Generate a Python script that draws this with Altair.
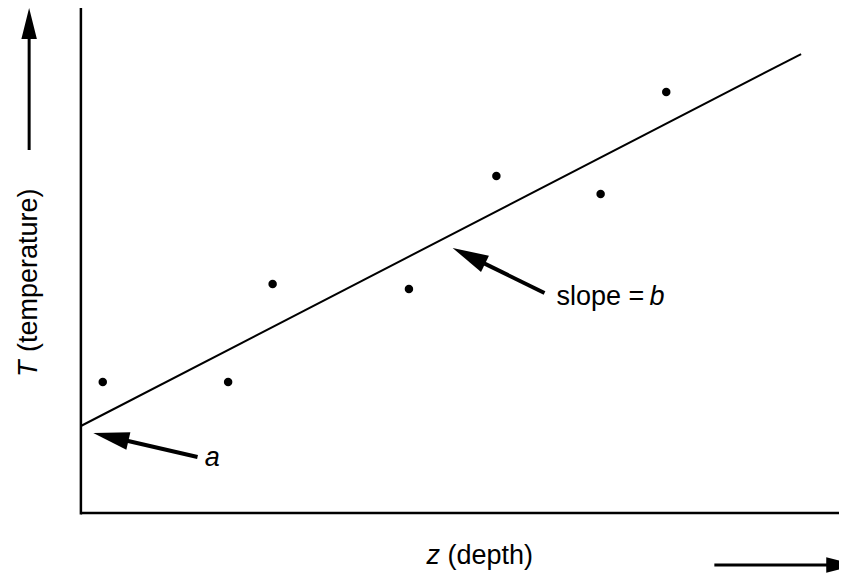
import math
import altair as alt
import pandas as pd

# ---- data ----
depth = [0.30, 2.02, 2.63, 4.50, 5.70, 7.13, 8.03]
temperature = [2.62, 2.62, 4.58, 4.48, 6.74, 6.38, 8.42]
intercept_a = 1.74
slope_b = 0.753
fit_z_end = 9.88

# annotation arrows: tail -> tip (data units)
arrow_tail_z = [1.60, 6.36, -0.71, 8.69]
arrow_tail_T = [1.12, 4.40, 7.26, -1.04]
arrow_tip_z = [0.17, 5.10, -0.71, 10.65]
arrow_tip_T = [1.60, 5.30, 10.10, -1.04]
arrow_head_len = [36, 36, 31, 31]
arrow_shaft_w = [4, 4, 3, 3]

# labels
normal_text = ["slope = ", "(depth)", "(temperature)"]
normal_z = [6.525, 5.03, -0.603]
normal_T = [4.16, -1.02, 3.22]
normal_angle = [0, 0, 270]
italic_text = ["a", "b", "z", "T"]
italic_z = [1.70, 7.80, 4.74, -0.603]
italic_T = [0.94, 4.16, -1.02, 2.72]
italic_angle = [0, 0, 0, 270]

# ---- layout ----
W, H = 831, 565
X_DOM = [-1.0, 10.4]
Y_DOM = [-1.2, 10.1]
PXX = W / (X_DOM[1] - X_DOM[0])
PXY = H / (Y_DOM[1] - Y_DOM[0])
FONT = "Liberation Sans"
FS = 27

xs = alt.Scale(domain=X_DOM, nice=False, zero=False)
ys = alt.Scale(domain=Y_DOM, nice=False, zero=False)

pts = pd.DataFrame({"z": depth, "T": temperature})
fit = pd.DataFrame({"z": [0, fit_z_end],
                    "T": [intercept_a, intercept_a + slope_b * fit_z_end]})
axes = pd.DataFrame({"z": [0, 0], "T": [-0.03, 0],
                     "z2": [0, 10.7], "T2": [10.14, 0]})

shafts, heads = [], []
for tz, tT, pz, pT, L, sw in zip(arrow_tail_z, arrow_tail_T, arrow_tip_z,
                                  arrow_tip_T, arrow_head_len, arrow_shaft_w):
    dx = (pz - tz) * PXX
    dy = -(pT - tT) * PXY
    n = math.hypot(dx, dy)
    ux, uy = dx / n, dy / n
    cz = pz - (L / 2) * ux / PXX
    cT = pT + (L / 2) * uy / PXY
    ang = math.degrees(math.atan2(ux, -uy)) % 360
    shafts.append({"z": tz, "T": tT, "z2": cz, "T2": cT, "w": sw})
    heads.append({"z": cz, "T": cT, "size": L * L, "angle": ang})
shafts = pd.DataFrame(shafts)
heads = pd.DataFrame(heads)

X = alt.X("z:Q", scale=xs, axis=None)
Y = alt.Y("T:Q", scale=ys, axis=None)

axes_l = alt.Chart(axes).mark_rule(color="black", strokeWidth=2.5).encode(
    x=X, y=Y, x2="z2:Q", y2="T2:Q")
fit_l = alt.Chart(fit).mark_line(color="black", strokeWidth=2).encode(x=X, y=Y)
pts_l = alt.Chart(pts).mark_circle(color="black", size=72, opacity=1).encode(x=X, y=Y)
shaft_l = alt.Chart(shafts).mark_rule(color="black").encode(
    x=X, y=Y, x2="z2:Q", y2="T2:Q",
    strokeWidth=alt.StrokeWidth("w:Q", scale=None, legend=None))
head_l = alt.Chart(heads).mark_point(
    shape="M0,-1L0.5,1L-0.5,1Z", filled=True, color="black", opacity=1,
    strokeWidth=0).encode(
    x=X, y=Y,
    size=alt.Size("size:Q", scale=None, legend=None),
    angle=alt.Angle("angle:Q", scale=None))

ntext = pd.DataFrame({"z": normal_z, "T": normal_T, "t": normal_text, "angle": normal_angle})
itext = pd.DataFrame({"z": italic_z, "T": italic_T, "t": italic_text, "angle": italic_angle})

ntext_l = alt.Chart(ntext).mark_text(
    align="left", baseline="alphabetic", font=FONT, fontSize=FS, color="black").encode(
    x=X, y=Y, text="t:N", angle=alt.Angle("angle:Q", scale=None))
itext_l = alt.Chart(itext).mark_text(
    align="left", baseline="alphabetic", font=FONT, fontSize=FS, fontStyle="italic",
    color="black").encode(
    x=X, y=Y, text="t:N", angle=alt.Angle("angle:Q", scale=None))

chart = alt.layer(axes_l, fit_l, pts_l, shaft_l, head_l, ntext_l, itext_l).properties(
    width=W, height=H, padding=0, autosize=alt.AutoSizeParams(type="none"),
    background="white"
).configure_view(strokeWidth=0)

chart.save("out.html", embed_options={"renderer": "svg", "actions": False})
